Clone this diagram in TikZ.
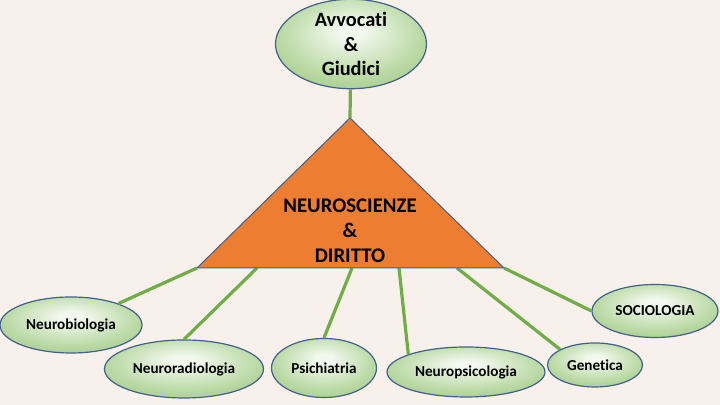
\documentclass[tikz,border=0pt]{standalone}
\usepackage{fontspec}
\setmainfont{Carlito}[Ligatures=CommonOff]
\usetikzlibrary{shapes.geometric,positioning}
\definecolor{bgcol}{HTML}{F8F0EB}
\definecolor{trifill}{HTML}{ED7D31}
\definecolor{edgeblue}{HTML}{41618C}
\definecolor{linkgreen}{HTML}{70AD47}
\definecolor{leafin}{HTML}{F2F8EE}
\definecolor{leafmid}{HTML}{BBDAA6}
\definecolor{leafout}{HTML}{84B964}
\pgfdeclareradialshading{leafshade}{\pgfpoint{0bp}{8bp}}{color(0bp)=(leafin); color(4bp)=(leafin); color(23bp)=(leafmid); color(45bp)=(leafout); color(60bp)=(leafout)}

\begin{document}
\begin{tikzpicture}[x=0.5pt, y=0.5pt,
    leaf/.style={ellipse, draw=edgeblue, line width=0.6pt, shading=leafshade, inner sep=0pt, font=\bfseries\fontsize{7.6}{9}\selectfont},
    link/.style={draw=linkgreen, line width=1.6pt}]
    \fill[bgcol] (0,0) rectangle (720,405);
    \useasboundingbox (0,0) rectangle (720,405);
    % triangle
    \coordinate (apex) at (350,287);
    \coordinate (bl) at (197,137);
    \coordinate (br) at (504,137);
    \coordinate (b2) at (257,137);
    \coordinate (b3) at (352,137);
    \coordinate (b4) at (399,137);
    \coordinate (b5) at (457,137);
    % ellipses
    \node[leaf, minimum width=75.5pt, minimum height=41pt, align=center, font=\bfseries\fontsize{10.2}{12.2}\selectfont] (lawyers) at (351,361) {Avvocati\\\&\\Giudici};
    \node[leaf, minimum width=71pt, minimum height=28pt] (neurobio) at (71,80) {Neurobiologia};
    \node[leaf, minimum width=79.5pt, minimum height=29pt] (neurorad) at (184,36) {Neuroradiologia};
    \node[leaf, minimum width=52.5pt, minimum height=29.5pt] (psych) at (324,37) {Psichiatria};
    \node[leaf, minimum width=79pt, minimum height=25pt] (neuropsy) at (466,33) {Neuropsicologia};
    \node[leaf, minimum width=47.5pt, minimum height=22pt] (genetics) at (595,40) {Genetica};
    \node[leaf, minimum width=63pt, minimum height=26.5pt] (socio) at (655,94) {SOCIOLOGIA};
    % connectors
    \draw[link] (lawyers) -- (apex);
    \draw[link] (bl) -- (neurobio);
    \draw[link] (b2) -- (neurorad.north);
    \draw[link] (b3) -- (psych.north);
    \draw[link] (b4) -- (neuropsy.163);
    \draw[link] (b5) -- (genetics.156);
    \draw[link] (br) -- (socio.west);
    \draw[fill=trifill, draw=edgeblue, line width=0.5pt] (apex) -- (br) -- (bl) -- cycle;
    \node[align=center, font=\bfseries\fontsize{10.4}{12.5}\selectfont] (core) at (350,174) {NEUROSCIENZE\\\&\\DIRITTO};
\end{tikzpicture}
\end{document}
